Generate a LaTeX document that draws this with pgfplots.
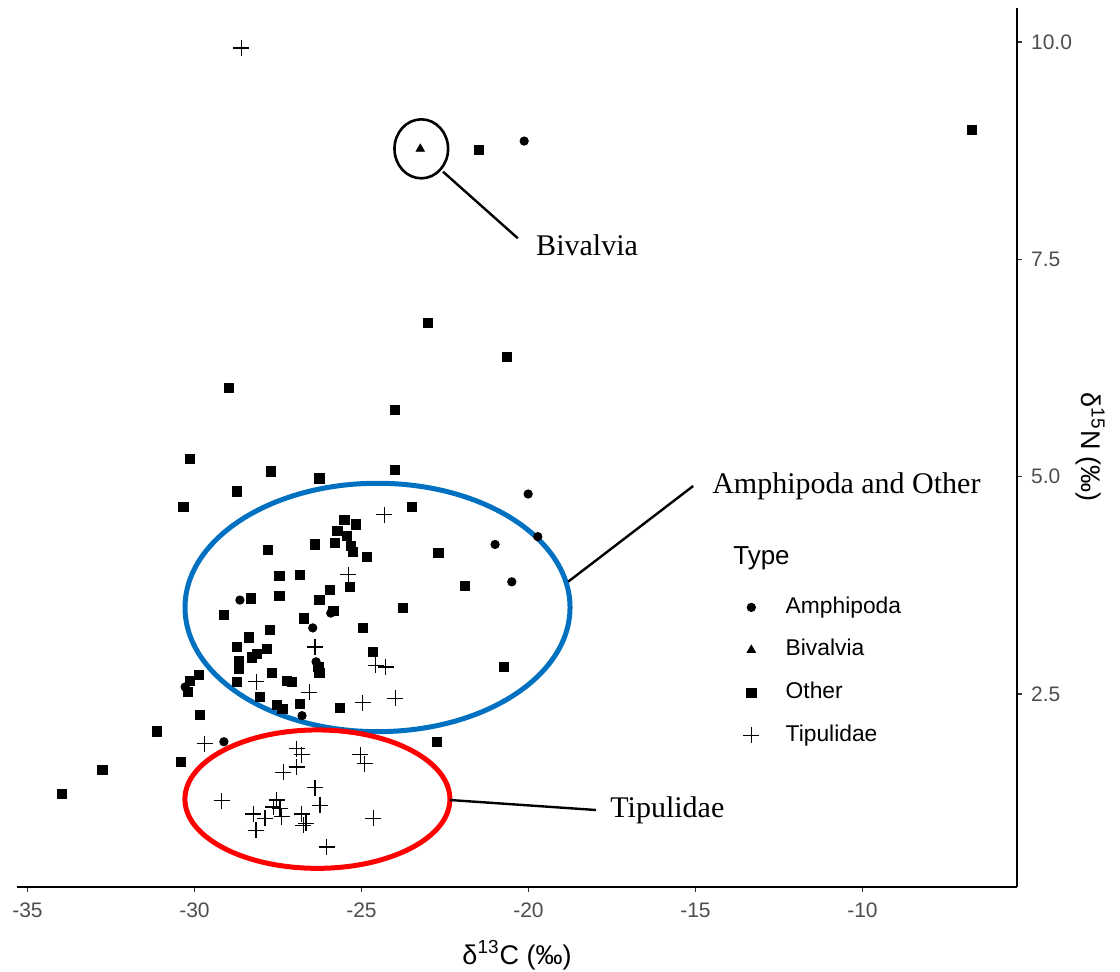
\documentclass[border=0pt]{standalone}
\usepackage{pgfplots}
\pgfplotsset{compat=1.18}
\usepackage{fontspec}
\setmainfont{Liberation Sans}
\newfontfamily\annserif{Liberation Serif}
\definecolor{ellblue}{RGB}{0,112,192}
\definecolor{ticktext}{RGB}{77,77,77}

\begin{document}
\begin{tikzpicture}
\useasboundingbox (-8.5pt,-42.5pt) rectangle (551.5pt,443.5pt);
\begin{axis}[
  scale only axis, width=500pt, height=439.5pt,
  xmin=-35.314, xmax=-5.374, ymin=0.2795, ymax=10.391,
  axis x line*=bottom, axis y line*=right,
  axis line style={black, line width=1pt, -},
  xtick={-35,-30,-25,-20,-15,-10}, xticklabels={-35,-30,-25,-20,-15,-10},
  ytick={2.5,5,7.5,10}, yticklabels={2.5,5.0,7.5,10.0},
  tick align=outside, major tick length=2.5pt,
  tick style={line width=0.7pt, color=black!80},
  ticklabel style={font=\fontsize{10.5}{12}\selectfont, text=ticktext},
  xticklabel style={yshift=-2pt},
  yticklabel style={xshift=1pt},
  xlabel={δ\textsuperscript{13}C (‰)}, ylabel={δ\textsuperscript{15}N (‰)},
  every axis x label/.style={at={(axis description cs:0.5,-0.0774)}, anchor=center, font=\fontsize{13.5}{16}\selectfont},
  every axis y label/.style={at={(axis description cs:1.073,0.5)}, anchor=center, rotate=-90, font=\fontsize{13.5}{16}\selectfont},
  legend cell align=left,
  legend style={draw=none, fill=none, inner sep=0pt,
    at={(axis cs:-13.58,3.65)}, anchor=north west,
    font=\fontsize{11.4}{13}\selectfont,
    nodes={text height=8.5pt, text depth=2.5pt, inner sep=1pt},
    row sep=8.3pt, column sep=12.2pt},
  clip=false,
]
\addplot[only marks, mark=*, mark size=2.1pt, black] table {
x y
-20.13 8.86
-20.01 4.80
-19.72 4.31
-21.00 4.22
-20.50 3.79
-28.64 3.58
-26.46 3.26
-26.36 2.87
-30.28 2.58
-29.12 1.95
-26.78 2.25
-25.92 3.43
};
\addlegendentry{Amphipoda}
\addplot[only marks, mark=triangle*, mark size=2.4pt, black] table {
x y
-23.24 8.77
};
\addlegendentry{Bivalvia}
\addplot[only marks, mark=square*, mark size=2.3pt, black] table {
x y
-6.73 8.99
-21.49 8.76
-23.01 6.77
-20.64 6.38
-28.97 6.02
-24.00 5.77
-30.13 5.20
-27.72 5.06
-26.26 4.98
-24.00 5.08
-28.73 4.83
-30.33 4.65
-23.50 4.65
-25.51 4.50
-25.16 4.45
-25.72 4.38
-25.43 4.32
-25.79 4.24
-25.32 4.20
-25.26 4.13
-26.40 4.22
-27.81 4.16
-24.83 4.08
-22.70 4.12
-27.46 3.86
-26.84 3.87
-25.34 3.73
-25.94 3.70
-27.46 3.63
-28.32 3.60
-26.26 3.58
-23.77 3.49
-25.84 3.46
-29.12 3.41
-26.72 3.37
-24.96 3.26
-27.74 3.24
-28.37 3.15
-28.74 3.04
-27.84 3.02
-28.14 2.96
-28.29 2.92
-24.67 2.98
-28.66 2.88
-28.66 2.79
-26.29 2.81
-26.26 2.74
-27.68 2.74
-20.73 2.81
-29.87 2.72
-30.13 2.65
-30.19 2.52
-28.72 2.64
-27.24 2.65
-27.09 2.64
-28.03 2.47
-27.54 2.37
-27.37 2.33
-26.85 2.39
-25.64 2.34
-29.85 2.26
-31.12 2.07
-30.40 1.72
-32.76 1.63
-33.96 1.35
-22.75 1.95
-21.90 3.74
};
\addlegendentry{Other}
\addplot[only marks, mark=+, mark size=4pt, black, line width=0.6pt] table {
x y
-28.60 9.93
-24.32 4.56
-25.40 3.87
-26.39 3.04
-24.58 2.83
-24.27 2.81
-28.15 2.64
-26.56 2.52
-24.96 2.40
-23.99 2.45
-29.70 1.93
-26.94 1.87
-26.79 1.80
-26.94 1.66
-27.34 1.60
-25.04 1.80
-24.90 1.70
-26.39 1.42
-26.24 1.22
-29.19 1.27
-27.54 1.28
-27.64 1.20
-27.44 1.18
-27.39 1.09
-28.24 1.12
-27.89 1.07
-28.16 0.93
-26.79 1.12
-26.74 0.99
-26.66 1.01
-24.65 1.07
-26.04 0.74
};
\addlegendentry{Tipulidae}

% annotations
\draw[black, line width=1.3pt] (axis cs:-23.21,8.771) ellipse [x radius=13.4pt, y radius=14.75pt];
\draw[black, line width=1.2pt] (axis cs:-22.56,8.508) -- (axis cs:-20.32,7.742);
\node[anchor=west, inner sep=0pt, font=\annserif\fontsize{15}{18}\selectfont] at (axis cs:-19.78,7.665) {Bivalvia};

\draw[ellblue, line width=2.5pt] (axis cs:-24.52,3.495) ellipse [x radius=96.25pt, y radius=62.1pt];
\draw[black, line width=1.2pt] (axis cs:-18.81,3.792) -- (axis cs:-15.07,4.892);
\node[anchor=west, inner sep=0pt, font=\annserif\fontsize{15}{18}\selectfont] at (axis cs:-14.51,4.887) {Amphipoda and Other};

\draw[red, line width=2.5pt] (axis cs:-26.32,1.290) ellipse [x radius=66.25pt, y radius=34.6pt];
\draw[black, line width=1.2pt] (axis cs:-22.35,1.280) -- (axis cs:-17.98,1.165);
\node[anchor=west, inner sep=0pt, font=\annserif\fontsize{15}{18}\selectfont] at (axis cs:-17.56,1.165) {Tipulidae};

\node[anchor=west, inner sep=0pt, font=\fontsize{13}{15}\selectfont] at (axis cs:-13.88,4.064) {Type};
\end{axis}
\end{tikzpicture}
\end{document}
